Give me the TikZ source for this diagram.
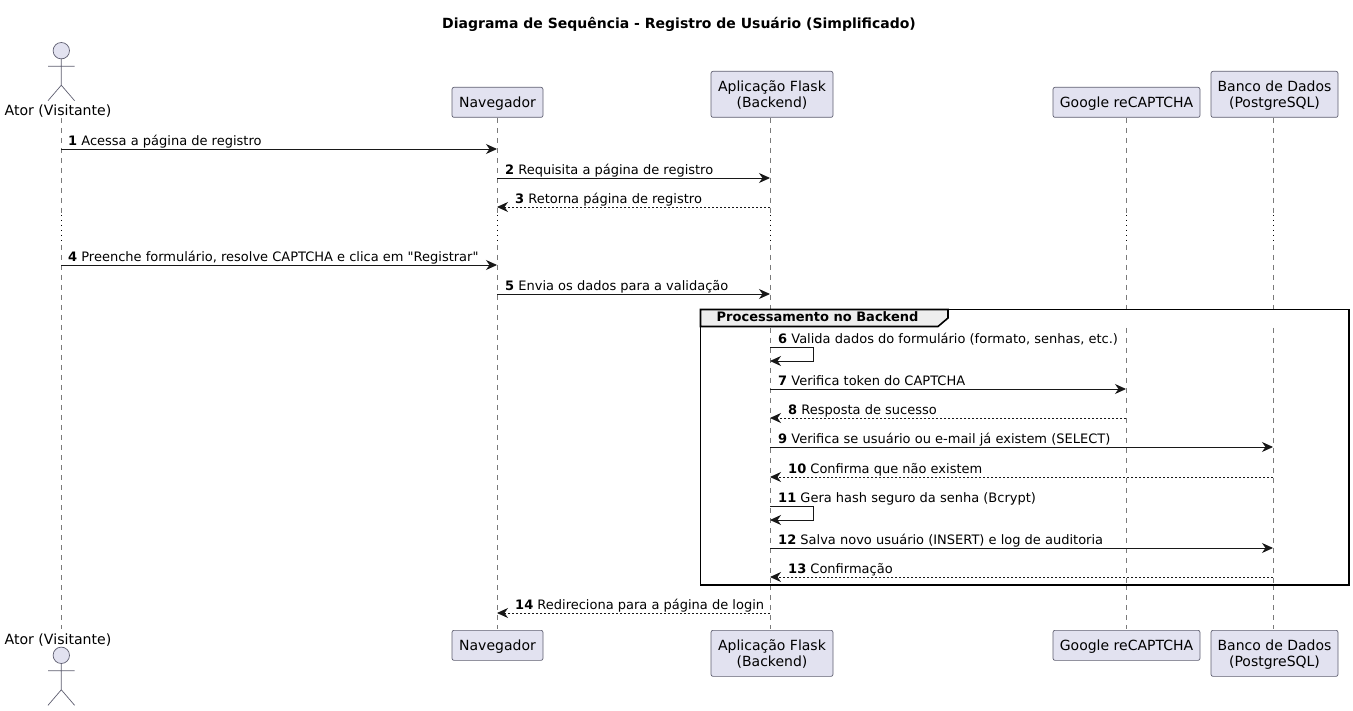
\documentclass[tikz,border=0pt]{standalone}
\usepackage{fontspec}
\setmainfont{DejaVu Sans}[Ligatures=TeXOff]
\usetikzlibrary{arrows.meta,calc}
\definecolor{pfill}{HTML}{E2E2F0}
\definecolor{pline}{HTML}{5E5E70}
\definecolor{lifeline}{HTML}{7A7A7A}
\definecolor{tabfill}{HTML}{EEEEEE}
\definecolor{ink}{HTML}{181818}
\tikzset{
  x=1pt,y=-1pt,
  part/.style={draw=pline,fill=pfill,rounded corners=2pt,line width=.7pt,align=center,font=\fontsize{14}{16}\selectfont,inner sep=0pt,anchor=north},
  actorlab/.style={inner sep=0pt,anchor=base,font=\fontsize{14.1}{16}\selectfont},
  lab/.style={anchor=base west,font=\fontsize{13}{15}\selectfont,inner sep=0pt,text=black},
  life/.style={draw=lifeline,line width=.6pt,dash pattern=on 5pt off 5pt},
  lifedot/.style={draw=black,line width=.8pt,dash pattern=on 1pt off 4pt},
  solidmsg/.style={draw=ink,line width=.9pt,-{Stealth[length=11pt,width=10pt,inset=3.5pt]}},
  dashmsg/.style={draw=ink,line width=.9pt,dash pattern=on 2pt off 2pt,-{Stealth[length=11pt,width=10pt,inset=3.5pt]}},
  actorline/.style={draw=pline,line width=.7pt},
  grp/.style={draw=black,line width=1.6pt},
}
\newcommand{\ptext}[1]{\raisebox{-2pt}[\height][\depth]{\begin{tabular}{@{}c@{}}#1\end{tabular}}}
\newcommand{\msgline}[6]{% from, to, y, style, label x, label
  \draw[#4] (#1 |- 0,#3) -- (#2 |- 0,#3);
  \node[lab] at (#5,#3-3.8) {#6};
}
\newcommand{\selfmsg}[4]{% from, y, label x, label
  \draw[solidmsg] (#1 |- 0,#2) -- ++(43,0) -- ++(0,14) -- (#1 |- 0,#2+14);
  \node[lab] at (#3,#2-3.8) {#4};
}
\newcommand{\actorfig}[2]{% x, head-centre y
  \draw[actorline,fill=pfill] (#1,#2) circle (8.2pt);
  \draw[actorline] (#1,#2+8.2) -- (#1,#2+34.5) (#1-13.3,#2+15.5) -- (#1+13.3,#2+15.5) (#1,#2+34.5) -- (#1-13.3,#2+50) (#1,#2+34.5) -- (#1+13.3,#2+50);
}
\begin{document}
\begin{tikzpicture}
\useasboundingbox (0,0) rectangle (1353,711);
\fill[white] (0,0) rectangle (1353,711);
\node[font=\bfseries\fontsize{14}{16}\selectfont,inner sep=0pt,anchor=base] (title) at (679,28.3) {Diagrama de Sequência - Registro de Usuário (Simplificado)};

% participants (top)
\node[actorlab] (a) at (58,115.5) {Ator (Visitante)};
\node[part,minimum width=91pt,minimum height=30pt] (n) at (497.5,87) {\ptext{Navegador}};
\node[part,minimum width=122pt,minimum height=46pt] (f) at (772,71) {\ptext{Aplicação Flask\\(Backend)}};
\node[part,minimum width=147pt,minimum height=30pt] (g) at (1126.5,87) {\ptext{Google reCAPTCHA}};
\node[part,minimum width=127pt,minimum height=46pt] (b) at (1274.5,71) {\ptext{Banco de Dados\\(PostgreSQL)}};
% participants (bottom)
\node[actorlab] (a2) at (58,644) {Ator (Visitante)};
\node[part,minimum width=91pt,minimum height=30pt] (n2) at (497.5,630) {\ptext{Navegador}};
\node[part,minimum width=122pt,minimum height=46pt] (f2) at (772,630) {\ptext{Aplicação Flask\\(Backend)}};
\node[part,minimum width=147pt,minimum height=30pt] (g2) at (1126.5,630) {\ptext{Google reCAPTCHA}};
\node[part,minimum width=127pt,minimum height=46pt] (b2) at (1274.5,630) {\ptext{Banco de Dados\\(PostgreSQL)}};

\actorfig{61.3}{50.7}
\actorfig{61.3}{655.3}

% lifeline anchors
\coordinate (A) at (61,118);
\coordinate (N) at (497,118);
\coordinate (F) at (770,118);
\coordinate (G) at (1126,118);
\coordinate (B) at (1273,118);

% lifelines
\foreach \p in {A,N,F,G,B}{
  \draw[life] (\p) -- (\p |- 0,214);
  \draw[lifedot] (\p |- 0,215) -- (\p |- 0,243);
  \draw[life] (\p |- 0,245) -- (\p |- 0,628.5);
}

% group frame
\draw[grp,fill=white] (700.5,309.5) rectangle (1349,585);
\draw[grp,fill=tabfill] (700.5,309.5) -- (948,309.5) -- (948,318) -- (938,326.5) -- (700.5,326.5) -- cycle;
\node[anchor=base west,inner sep=0pt,font=\bfseries\fontsize{13}{15}\selectfont] (grouplabel) at (716.5,321.7) {Processamento no Backend};
% lifelines over the frame
\foreach \p in {F,G,B}{
  \draw[life] (\p |- 0,328) -- (\p |- 0,585);
}

\msgline{A}{N}{149}{solidmsg}{68}{\textbf{1} Acessa a página de registro}
\msgline{N}{F}{178}{solidmsg}{505}{\textbf{2} Requisita a página de registro}
\msgline{F}{N}{207}{dashmsg}{515}{\textbf{3} Retorna página de registro}
\msgline{A}{N}{265}{solidmsg}{68}{\textbf{4} Preenche formulário, resolve CAPTCHA e clica em "Registrar"}
\msgline{N}{F}{294}{solidmsg}{505}{\textbf{5} Envia os dados para a validação}
\selfmsg{F}{347}{778}{\textbf{6} Valida dados do formulário (formato, senhas, etc.)}
\msgline{F}{G}{389}{solidmsg}{778}{\textbf{7} Verifica token do CAPTCHA}
\msgline{G}{F}{418}{dashmsg}{788}{\textbf{8} Resposta de sucesso}
\msgline{F}{B}{447}{solidmsg}{778}{\textbf{9} Verifica se usuário ou e-mail já existem (SELECT)}
\msgline{B}{F}{477}{dashmsg}{788}{\textbf{10} Confirma que não existem}
\selfmsg{F}{506}{778}{\textbf{11} Gera hash seguro da senha (Bcrypt)}
\msgline{F}{B}{548}{solidmsg}{778}{\textbf{12} Salva novo usuário (INSERT) e log de auditoria}
\msgline{B}{F}{577}{dashmsg}{788}{\textbf{13} Confirmação}
\msgline{F}{N}{613}{dashmsg}{515}{\textbf{14} Redireciona para a página de login}
\end{tikzpicture}
\end{document}
